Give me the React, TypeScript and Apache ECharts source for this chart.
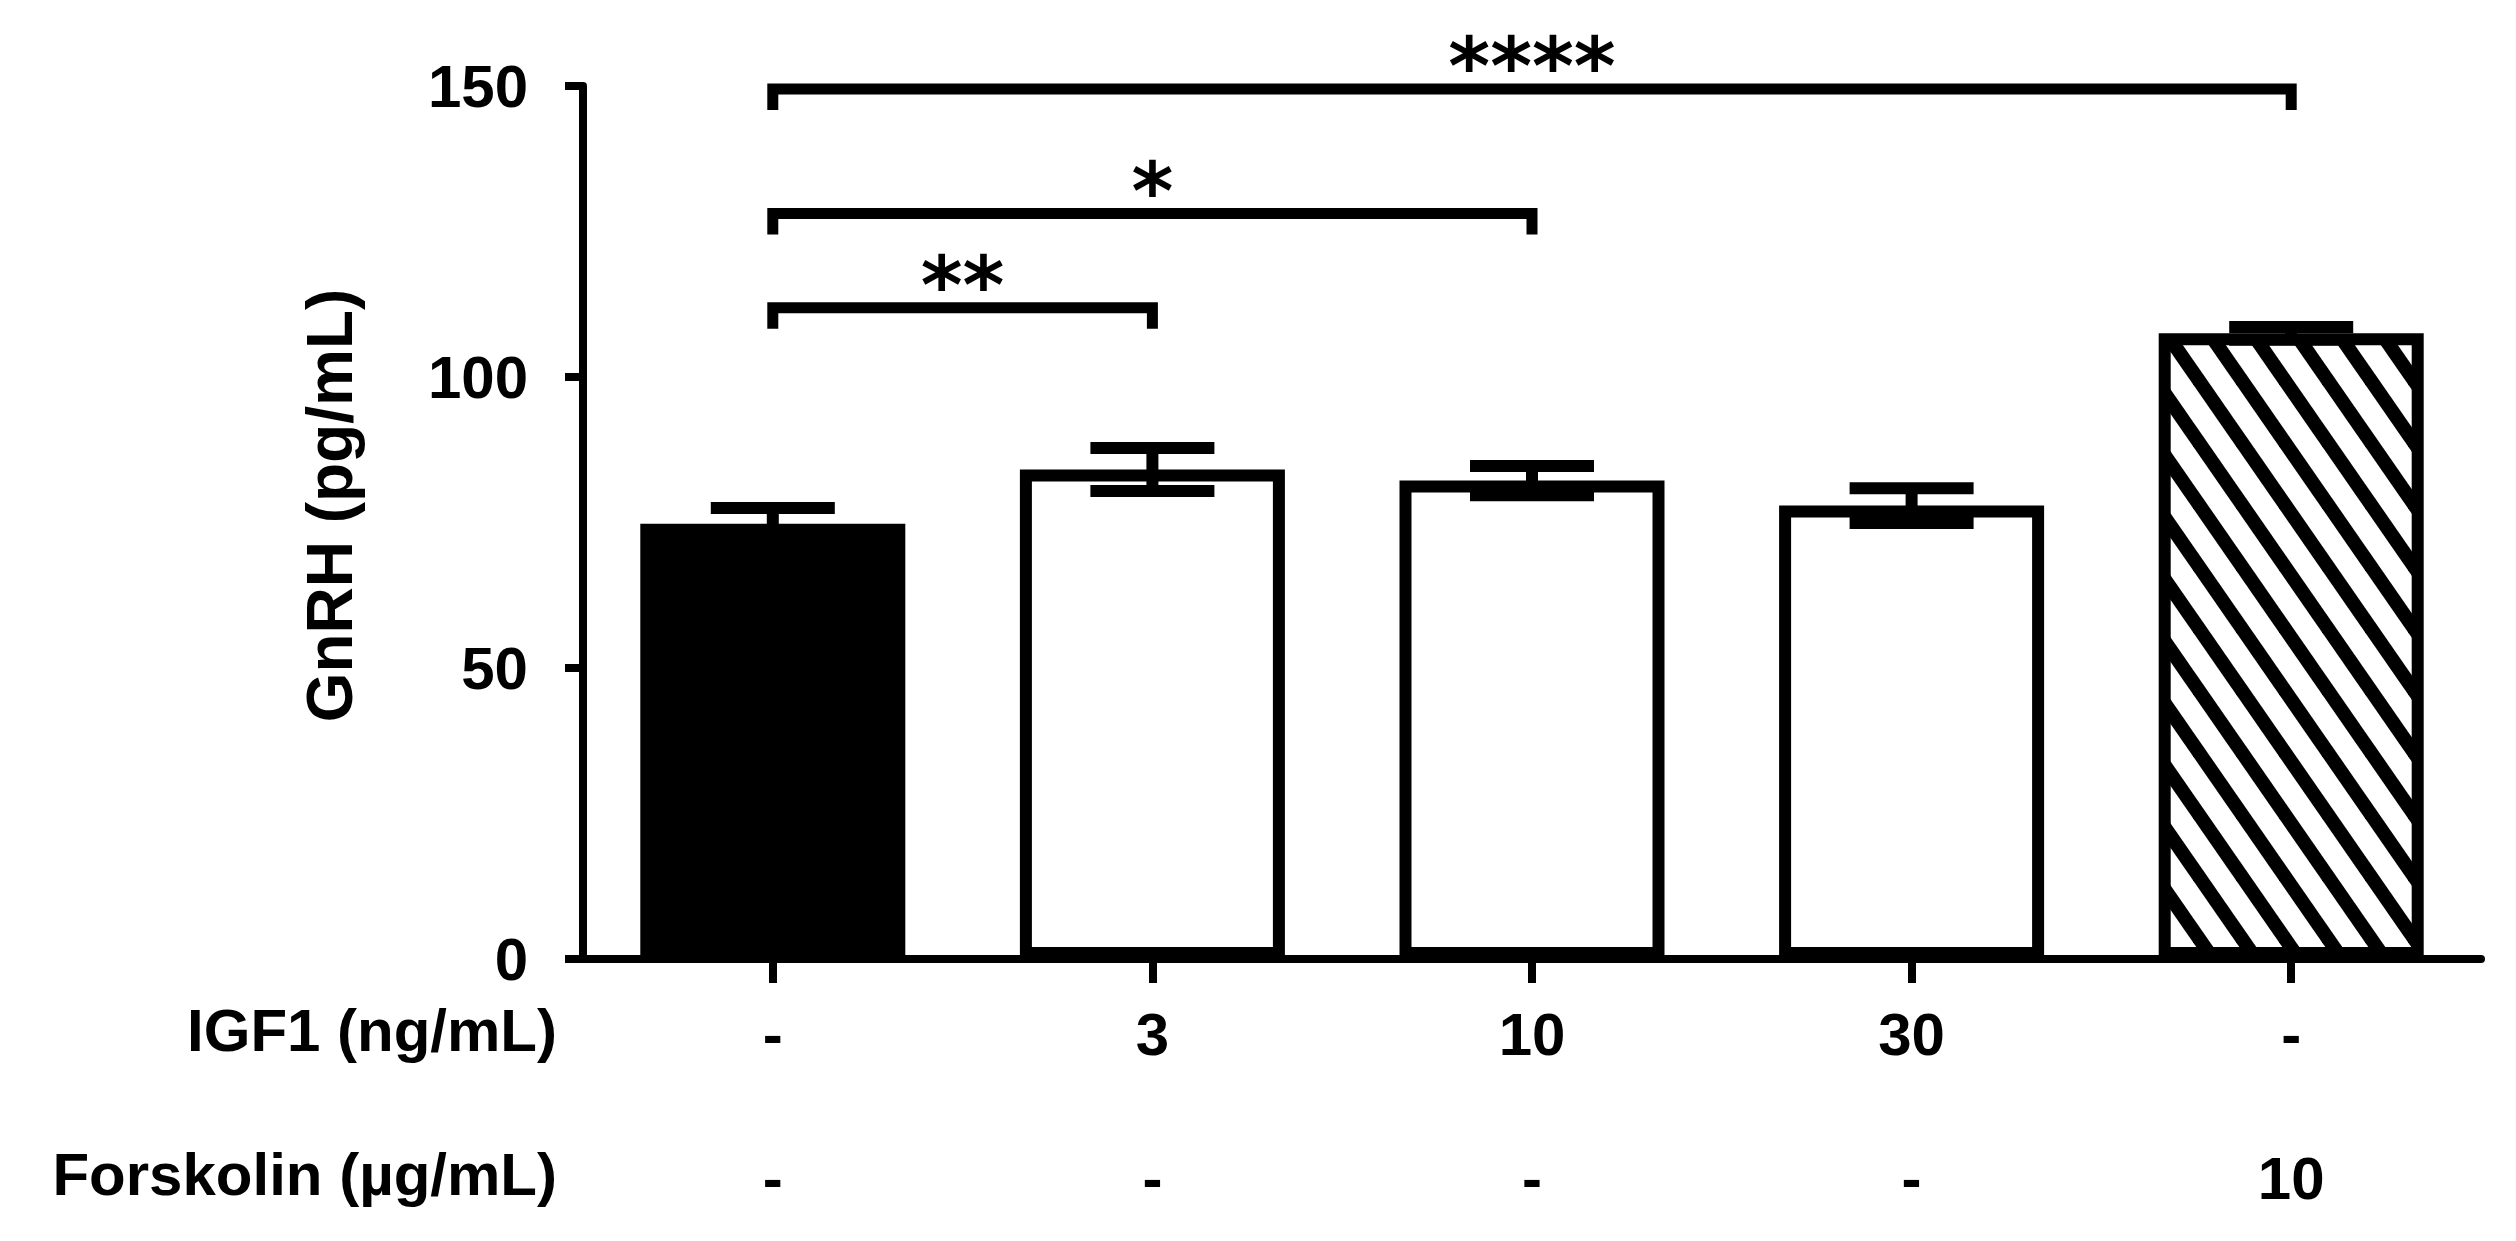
import React, { useEffect, useRef } from "react";
import * as echarts from "echarts";

// ---- data ----
const categories = ["Control", "IGF1 3", "IGF1 10", "IGF1 30", "Forskolin 10"];
const igf1Labels = ["-", "3", "10", "30", "-"];
const forskolinLabels = ["-", "-", "-", "-", "10"];
const gnrhMeans = [74.8, 84.1, 82.2, 77.9, 107.5];
const gnrhSem = [2.7, 3.7, 2.5, 3.0, 1.1];
const barFills = ["solid", "open", "open", "open", "hatch"];
const yTickValues = [0, 50, 100, 150];
const bracketFrom = [0, 0, 0];
const bracketTo = [1, 2, 4];
const bracketY = [111.9, 128.1, 149.5];
const bracketLabels = ["**", "*", "****"];
const yAxisTitle = "GnRH (pg/mL)";
const rowTitles = ["IGF1 (ng/mL)", "Forskolin (\u00b5g/mL)"];

const FONT = "'Liberation Sans', Arial, sans-serif";
const STAR_FONT = "'DejaVu Sans', sans-serif";

function makeHatch() {
  const W = 43;
  const H = 62;
  const c = document.createElement("canvas");
  c.width = W;
  c.height = H;
  const ctx = c.getContext("2d")!;
  ctx.fillStyle = "#fff";
  ctx.fillRect(0, 0, W, H);
  ctx.strokeStyle = "#000";
  ctx.lineWidth = 14;
  for (let k = -2; k <= 2; k++) {
    ctx.beginPath();
    ctx.moveTo(k * W - W, -H);
    ctx.lineTo(k * W + 2 * W, 2 * H);
    ctx.stroke();
  }
  return { image: c, repeat: "repeat", imageWidth: W, imageHeight: H } as any;
}

export default function App() {
  const ref = useRef<HTMLDivElement>(null);
  useEffect(() => {
    document.body.style.margin = "0";
    document.body.style.overflow = "hidden";
    const chart = echarts.init(ref.current!, null, { renderer: "svg" });
    const hatch = makeHatch();

    const barData = gnrhMeans.map((v, i) => ({
      value: v,
      itemStyle: {
        color: barFills[i] === "solid" ? "#000" : barFills[i] === "hatch" ? hatch : "#fff",
        borderColor: "#000",
        borderWidth: 12,
      },
    }));

    const errData = gnrhMeans.map((v, i) => [i, v, gnrhSem[i]]);
    const brData = bracketFrom.map((f, i) => [f, bracketTo[i], bracketY[i]]);

    const labelStyle = {
      color: "#000",
      fontFamily: FONT,
      fontWeight: "bold",
      fontSize: 60,
    };

    const option: any = {
      animation: false,
      backgroundColor: "#fff",
      grid: { left: 583, right: 35, top: 86, bottom: 282, containLabel: false },
      xAxis: [
        {
          type: "category",
          data: categories,
          position: "bottom",
          axisLine: { show: true, lineStyle: { color: "#000", width: 8 } },
          axisTick: { show: true, alignWithLabel: true, length: 24, lineStyle: { color: "#000", width: 8 } },
          axisLabel: {
            interval: 0,
            margin: 45,
            formatter: (_v: string, idx: number) => igf1Labels[idx],
            ...labelStyle,
          },
          splitLine: { show: false },
        },
        {
          type: "category",
          data: categories,
          position: "bottom",
          offset: 144,
          axisLine: { show: false },
          axisTick: { show: false },
          axisLabel: {
            interval: 0,
            margin: 45,
            formatter: (_v: string, idx: number) => forskolinLabels[idx],
            ...labelStyle,
          },
          splitLine: { show: false },
        },
      ],
      yAxis: {
        type: "value",
        min: yTickValues[0],
        max: yTickValues[yTickValues.length - 1],
        interval: yTickValues[1] - yTickValues[0],
        name: yAxisTitle,
        nameLocation: "middle",
        nameRotate: 90,
        nameGap: 221,
        nameTextStyle: {
          color: "#000",
          fontFamily: FONT,
          fontWeight: "bold",
          fontSize: 64,
          padding: [0, 0, 0, 34],
        },
        axisLine: { show: true, lineStyle: { color: "#000", width: 8 } },
        axisTick: { show: true, length: 18, lineStyle: { color: "#000", width: 8 } },
        axisLabel: {
          margin: 55,
          ...labelStyle,
        },
        splitLine: { show: false },
      },
      graphic: [
        {
          type: "text",
          right: 2516 - 557,
          top: 1034 - 34,
          style: {
            text: rowTitles[0],
            fill: "#000",
            font: `bold 60px ${FONT}`,
          },
        },
        {
          type: "text",
          right: 2516 - 557,
          top: 1178 - 34,
          style: {
            text: rowTitles[1],
            fill: "#000",
            font: `bold 60px ${FONT}`,
          },
        },
      ],
      series: [
        {
          type: "bar",
          data: barData,
          barWidth: 265,
          xAxisIndex: 0,
          z: 2,
        },
        {
          type: "custom",
          xAxisIndex: 0,
          data: errData,
          encode: { x: 0, y: 1 },
          z: 3,
          renderItem: (_params: any, api: any) => {
            const idx = api.value(0);
            const m = api.value(1);
            const s = api.value(2);
            const top = api.coord([idx, m + s]);
            const bot = api.coord([idx, m - s]);
            const half = 62;
            const style = { stroke: "#000", lineWidth: 12, fill: null };
            return {
              type: "group",
              children: [
                { type: "line", shape: { x1: top[0], y1: top[1], x2: bot[0], y2: bot[1] }, style },
                { type: "line", shape: { x1: top[0] - half, y1: top[1], x2: top[0] + half, y2: top[1] }, style },
                { type: "line", shape: { x1: bot[0] - half, y1: bot[1], x2: bot[0] + half, y2: bot[1] }, style },
              ],
            };
          },
        },
        {
          type: "custom",
          xAxisIndex: 0,
          data: brData,
          encode: { x: [0, 1], y: 2 },
          z: 4,
          clip: false,
          renderItem: (params: any, api: any) => {
            const a = api.coord([api.value(0), api.value(2)]);
            const b = api.coord([api.value(1), api.value(2)]);
            const drop = 21;
            return {
              type: "group",
              children: [
                {
                  type: "polyline",
                  shape: {
                    points: [
                      [a[0], a[1] + drop],
                      [a[0], a[1]],
                      [b[0], b[1]],
                      [b[0], b[1] + drop],
                    ],
                  },
                  style: { stroke: "#000", lineWidth: 11, fill: null, lineJoin: "miter" },
                },
                {
                  type: "text",
                  x: (a[0] + b[0]) / 2,
                  y: a[1] - 22,
                  style: {
                    text: bracketLabels[params.dataIndex],
                    fill: "#000",
                    font: `bold 80px ${STAR_FONT}`,
                    align: "center",
                    verticalAlign: "middle",
                    textAlign: "center",
                    textVerticalAlign: "middle",
                  },
                },
              ],
            };
          },
        },
      ],
    };
    chart.setOption(option);
    return () => chart.dispose();
  }, []);
  return <div ref={ref} style={{ width: 2516, height: 1241 }} />;
}
